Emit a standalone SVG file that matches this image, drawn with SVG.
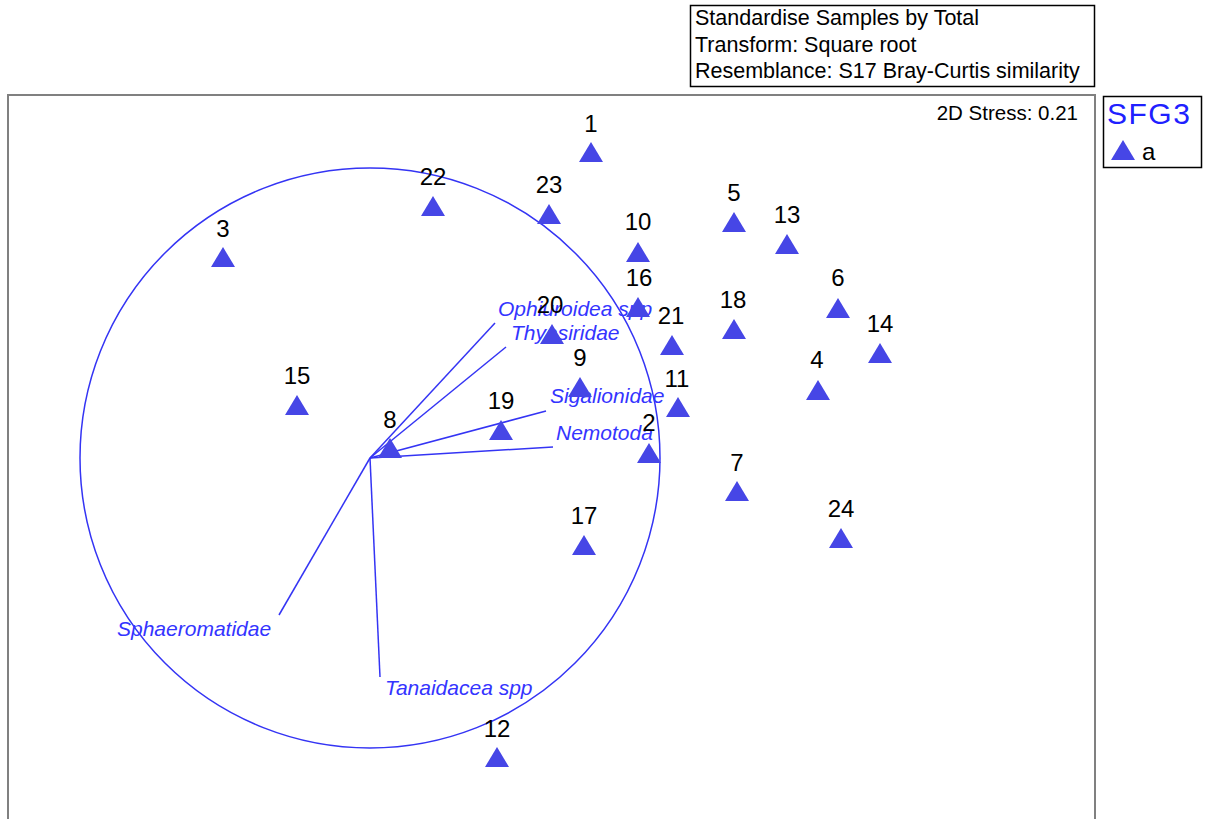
<svg xmlns="http://www.w3.org/2000/svg" width="1211" height="819" viewBox="0 0 1211 819">
<style>
.frame{fill:none;stroke:#808080;stroke-width:2}
.box{fill:#fff;stroke:#000;stroke-width:1.5}
.t{font-family:"Liberation Sans",Arial,sans-serif;fill:#000}
.num{font-family:"Liberation Sans",Arial,sans-serif;font-size:24px;fill:#000;text-anchor:middle}
.vl{font-family:"Liberation Sans",Arial,sans-serif;font-size:21px;font-style:italic;fill:#3434ff}
.vec{stroke:#3434f4;stroke-width:1.5;fill:none}
.tri{fill:#4646e6}
</style>
<defs>
<path id="tri" class="tri" d="M0,0 L12,20 L-12,20 Z"/>
</defs>
<rect width="1211" height="819" fill="#fff"/>
<path class="frame" d="M8,819 V95 H1095 V819"/>
<g id="info">
<rect class="box" x="690.5" y="5.5" width="404" height="81"/>
<text class="t" x="695" y="25" font-size="21.5">Standardise Samples by Total</text>
<text class="t" x="695" y="52" font-size="21.5">Transform: Square root</text>
<text class="t" x="695" y="78" font-size="21.5">Resemblance: S17 Bray-Curtis similarity</text>
</g>
<text class="t" x="1078" y="120" font-size="20.5" text-anchor="end">2D Stress: 0.21</text>
<g id="legend">
<rect class="box" x="1103.5" y="96.5" width="98" height="71"/>
<text x="1107" y="124" font-family="Liberation Sans,Arial,sans-serif" font-size="30" letter-spacing="1.5" fill="#2020ff">SFG3</text>
<use href="#tri" x="1123" y="140"/>
<text class="t" x="1142" y="160" font-size="24">a</text>
</g>
<g id="connectors">
<circle class="vec" cx="370" cy="458" r="290"/>
<line class="vec" x1="370" y1="458" x2="495" y2="323"/>
<line class="vec" x1="370" y1="458" x2="506" y2="347"/>
<line class="vec" x1="370" y1="458" x2="546" y2="411"/>
<line class="vec" x1="370" y1="458" x2="553" y2="447"/>
<line class="vec" x1="370" y1="458" x2="279" y2="615"/>
<line class="vec" x1="370" y1="458" x2="380" y2="677"/>
</g>
<g id="vector-labels">
<text class="vl" x="498" y="316">Ophiuroidea spp</text>
<text class="vl" x="511" y="340">Thyasiridae</text>
<text class="vl" x="550" y="403">Sigalionidae</text>
<text class="vl" x="556" y="440">Nemotoda</text>
<text class="vl" x="117" y="636">Sphaeromatidae</text>
<text class="vl" x="385" y="695">Tanaidacea spp</text>
</g>
<g id="p1"><use href="#tri" x="591" y="142"/><text class="num" x="591" y="132">1</text></g>
<g id="p22"><use href="#tri" x="433" y="196"/><text class="num" x="433" y="185">22</text></g>
<g id="p23"><use href="#tri" x="549" y="204"/><text class="num" x="549" y="193">23</text></g>
<g id="p3"><use href="#tri" x="223" y="247"/><text class="num" x="223" y="237">3</text></g>
<g id="p10"><use href="#tri" x="638" y="242"/><text class="num" x="638" y="230">10</text></g>
<g id="p5"><use href="#tri" x="734" y="212"/><text class="num" x="734" y="201">5</text></g>
<g id="p13"><use href="#tri" x="787" y="234"/><text class="num" x="787" y="223">13</text></g>
<g id="p16"><use href="#tri" x="638" y="297"/><text class="num" x="639" y="286">16</text></g>
<g id="p6"><use href="#tri" x="838" y="298"/><text class="num" x="838" y="286">6</text></g>
<g id="p20"><use href="#tri" x="552" y="324"/><text class="num" x="550" y="313">20</text></g>
<g id="p18"><use href="#tri" x="734" y="319"/><text class="num" x="733" y="308">18</text></g>
<g id="p21"><use href="#tri" x="672" y="335"/><text class="num" x="671" y="324">21</text></g>
<g id="p14"><use href="#tri" x="880" y="343"/><text class="num" x="880" y="332">14</text></g>
<g id="p9"><use href="#tri" x="580" y="377"/><text class="num" x="580" y="366">9</text></g>
<g id="p15"><use href="#tri" x="297" y="395"/><text class="num" x="297" y="384">15</text></g>
<g id="p4"><use href="#tri" x="818" y="380"/><text class="num" x="817" y="368">4</text></g>
<g id="p11"><use href="#tri" x="678" y="397"/><text class="num" x="677" y="387">11</text></g>
<g id="p19"><use href="#tri" x="501" y="420"/><text class="num" x="501" y="409">19</text></g>
<g id="p8"><use href="#tri" x="390" y="438"/><text class="num" x="390" y="428">8</text></g>
<g id="p2"><use href="#tri" x="649" y="443"/><text class="num" x="649" y="431">2</text></g>
<g id="p7"><use href="#tri" x="737" y="481"/><text class="num" x="737" y="471">7</text></g>
<g id="p24"><use href="#tri" x="841" y="528"/><text class="num" x="841" y="517">24</text></g>
<g id="p17"><use href="#tri" x="584" y="535"/><text class="num" x="584" y="524">17</text></g>
<g id="p12"><use href="#tri" x="497" y="747"/><text class="num" x="497" y="737">12</text></g>
</svg>
